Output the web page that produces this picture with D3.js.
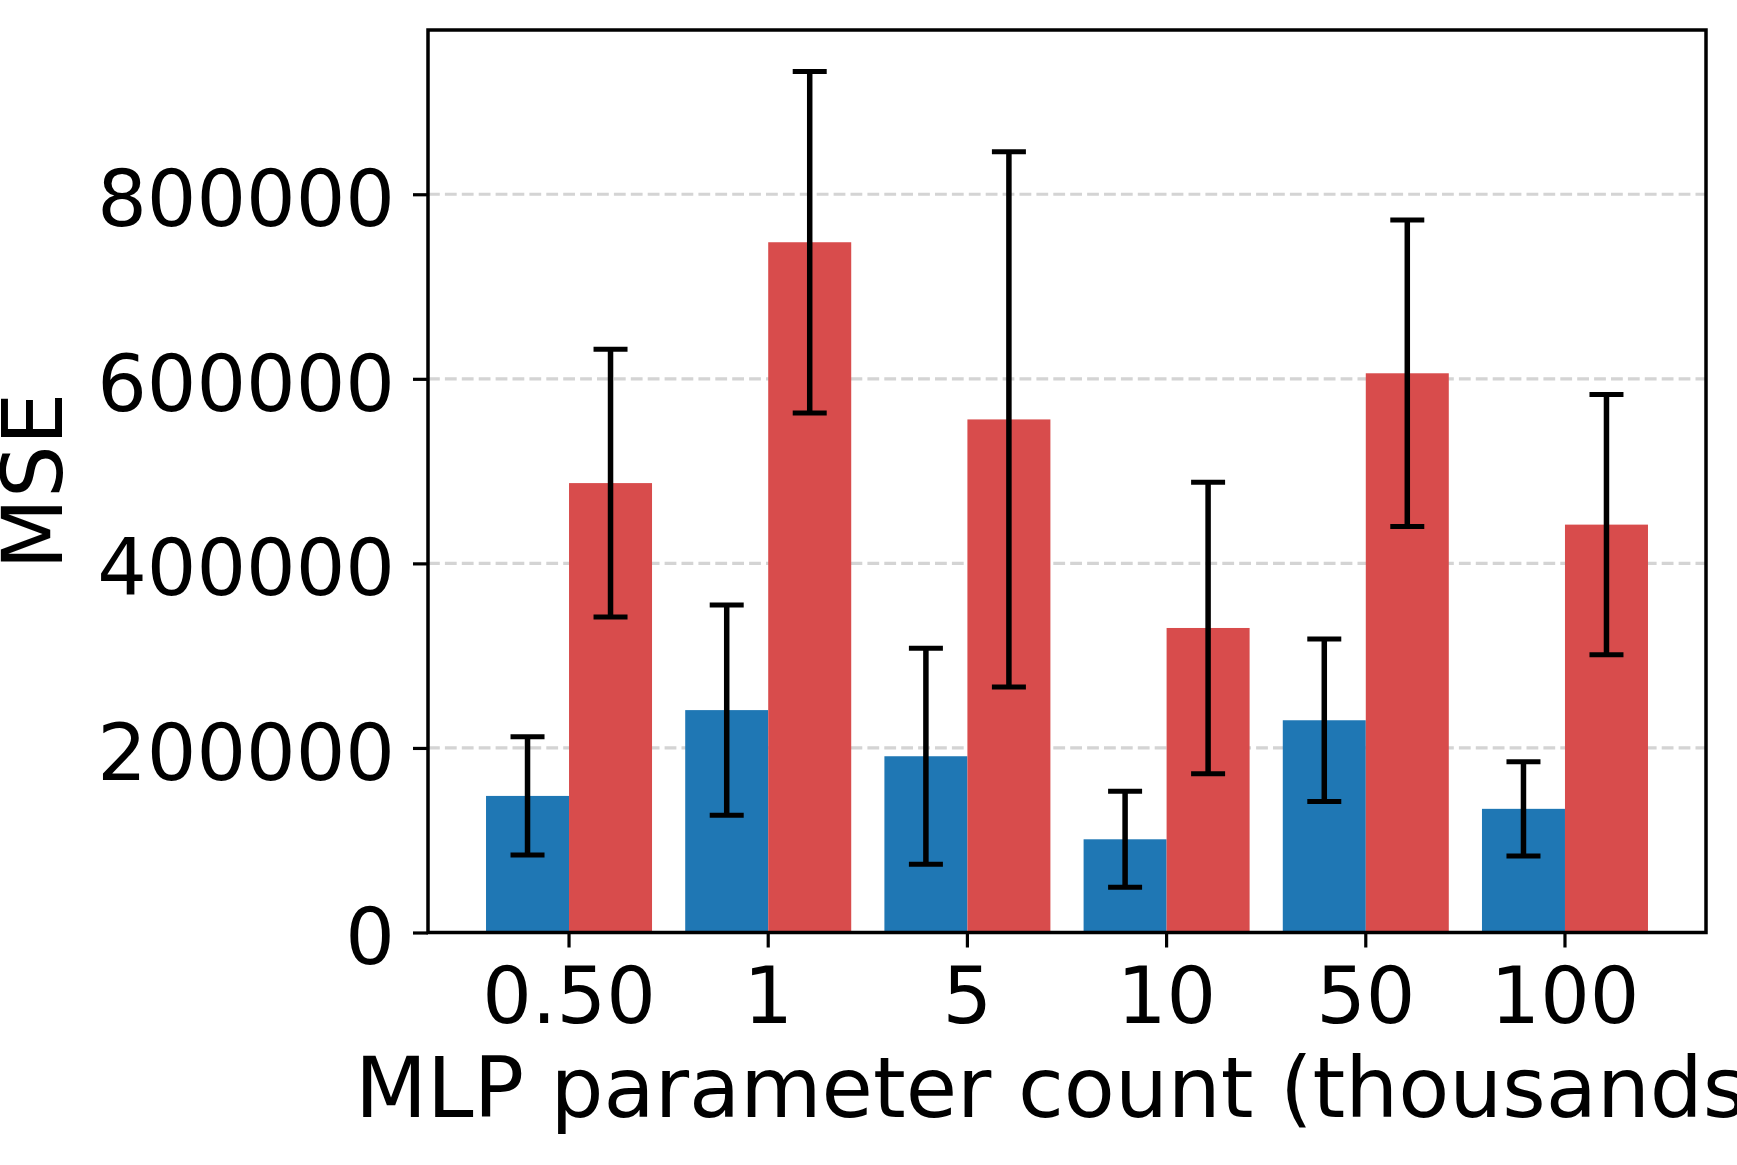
<!DOCTYPE html>
<html>
<head>
    <script src="https://d3js.org/d3.v7.min.js"></script>
    <style>
        body { margin: 0; background: #fff; }
        svg { display: block; font-family: "DejaVu Sans", sans-serif; }
    </style>
</head>
<body>
    <svg id="chart" width="1737" height="1165"></svg>

    <script>
        // values
        const paramLabels = ["0.50", "1", "5", "10", "50", "100"];
        const blueMse = [148000, 241000, 191000, 101000, 230000, 134000];
        const blueErr = [64000, 114000, 117000, 52000, 88000, 51000];
        const redMse = [487000, 748000, 556000, 330000, 606000, 442000];
        const redErr = [145000, 185000, 290000, 158000, 166000, 141000];
        const yTicks = [0, 200000, 400000, 600000, 800000];

        const svg = d3.select("#chart");
        const margin = { top: 30, right: 31, bottom: 233, left: 428 };
        const width = +svg.attr("width");
        const height = +svg.attr("height");
        const plotRight = width - margin.right;
        const plotBottom = height - margin.bottom + 0.5;

        const xScale = d3.scaleBand()
            .domain(paramLabels)
            .range([margin.left, plotRight])
            .paddingInner(0)
            .paddingOuter(0.208);

        const yScale = d3.scaleLinear()
            .domain([0, 978000])
            .range([plotBottom, margin.top]);

        const barW = xScale.bandwidth() * 0.4167;
        const center = d => xScale(d) + xScale.bandwidth() / 2;

        const series = [
            { name: "blue", color: "#1f77b4", vals: blueMse, errs: blueErr, offset: -barW / 2 },
            { name: "red", color: "#d84c4c", vals: redMse, errs: redErr, offset: barW / 2 }
        ];

        // grid
        svg.append("g")
            .selectAll("line")
            .data(yTicks.filter(t => t > 0))
            .join("line")
            .attr("x1", margin.left)
            .attr("x2", plotRight)
            .attr("y1", d => yScale(d))
            .attr("y2", d => yScale(d))
            .attr("stroke", "#d4d4d4")
            .attr("stroke-width", 3.2)
            .attr("stroke-dasharray", "11.8,5.1");

        // bars
        series.forEach(s => {
            const rows = paramLabels.map((p, i) => ({ p, v: s.vals[i], e: s.errs[i] }));
            svg.append("g")
                .selectAll("rect")
                .data(rows)
                .join("rect")
                .attr("x", d => center(d.p) + s.offset - barW / 2)
                .attr("y", d => yScale(d.v))
                .attr("width", barW)
                .attr("height", d => plotBottom - yScale(d.v))
                .attr("fill", s.color);
        });

        // error bars
        series.forEach(s => {
            const rows = paramLabels.map((p, i) => ({ p, v: s.vals[i], e: s.errs[i] }));
            const g = svg.append("g").attr("stroke", "black").attr("stroke-width", 5.5);
            g.selectAll(".stem")
                .data(rows)
                .join("line")
                .attr("class", "stem")
                .attr("x1", d => center(d.p) + s.offset)
                .attr("x2", d => center(d.p) + s.offset)
                .attr("y1", d => yScale(d.v + d.e))
                .attr("y2", d => yScale(d.v - d.e));
            ["top", "bot"].forEach(k => {
                g.selectAll(".cap-" + k)
                    .data(rows)
                    .join("line")
                    .attr("class", "cap-" + k)
                    .attr("x1", d => center(d.p) + s.offset - 17)
                    .attr("x2", d => center(d.p) + s.offset + 17)
                    .attr("y1", d => yScale(k === "top" ? d.v + d.e : d.v - d.e))
                    .attr("y2", d => yScale(k === "top" ? d.v + d.e : d.v - d.e))
                    .attr("stroke-width", 5);
            });
        });

        // axes
        const xAxis = svg.append("g")
            .attr("transform", `translate(0,${plotBottom})`)
            .call(d3.axisBottom(xScale).tickSize(15).tickPadding(20));
        const yAxis = svg.append("g")
            .attr("transform", `translate(${margin.left},0)`)
            .call(d3.axisLeft(yScale).tickValues(yTicks).tickFormat(d3.format("d")).tickSize(15).tickPadding(18));

        [xAxis, yAxis].forEach(a => {
            a.select(".domain").remove();
            a.selectAll(".tick line").attr("stroke", "black").attr("stroke-width", 3.2);
            a.selectAll(".tick text")
                .attr("fill", "black")
                .style("font-family", "'DejaVu Sans', sans-serif")
                .style("font-size", "78px");
        });
        yAxis.selectAll(".tick text").attr("dy", "0.4em");

        // frame
        svg.append("rect")
            .attr("x", margin.left)
            .attr("y", margin.top)
            .attr("width", plotRight - margin.left)
            .attr("height", plotBottom - margin.top)
            .attr("fill", "none")
            .attr("stroke", "black")
            .attr("stroke-width", 3.5);

        // labels
        svg.append("text")
            .attr("x", (margin.left + plotRight) / 2)
            .attr("y", 1117)
            .attr("text-anchor", "middle")
            .style("font-size", "83.5px")
            .text("MLP parameter count (thousands)");

        svg.append("text")
            .attr("transform", `translate(62,${(margin.top + plotBottom) / 2}) rotate(-90)`)
            .attr("text-anchor", "middle")
            .style("font-size", "83px")
            .text("MSE");
    </script>
</body>
</html>
